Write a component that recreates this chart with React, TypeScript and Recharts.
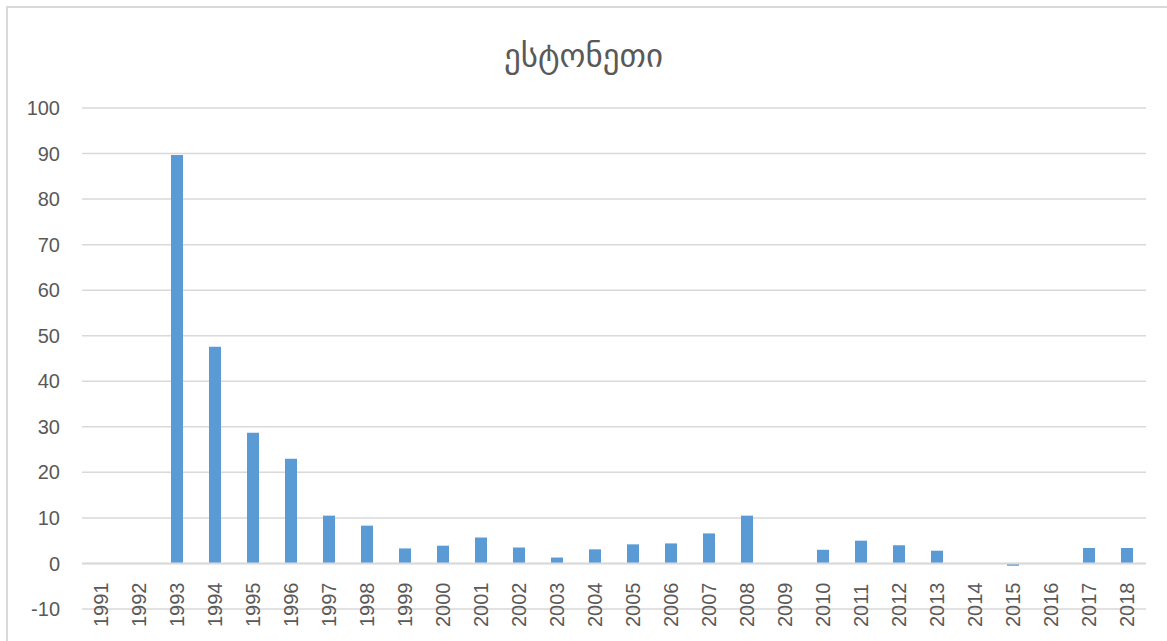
import React from "react";
import { BarChart, Bar, XAxis, YAxis, CartesianGrid, ReferenceLine } from "recharts";

const years = [
  "1991", "1992", "1993", "1994", "1995", "1996", "1997", "1998", "1999", "2000",
  "2001", "2002", "2003", "2004", "2005", "2006", "2007", "2008", "2009", "2010",
  "2011", "2012", "2013", "2014", "2015", "2016", "2017", "2018",
];
const values: (number | null)[] = [
  null, null, 89.7, 47.6, 28.7, 23.0, 10.5, 8.3, 3.3, 3.9,
  5.7, 3.5, 1.3, 3.1, 4.2, 4.4, 6.6, 10.5, 0, 3.0,
  5.0, 4.0, 2.8, 0, -0.5, 0, 3.4, 3.4,
];
const yTicks = [-10, 0, 10, 20, 30, 40, 50, 60, 70, 80, 90, 100];
const title = "ესტონეთი";

const data = years.map((y, i) => ({ year: y, v: values[i] }));

const FONT = "'Liberation Sans', Arial, sans-serif";
const TEXT = "#595959";
const GRID = "#d9d9d9";

const XTick = (props: any) => {
  const { x, y, payload } = props;
  const ax = x + 7;
  const ay = y + 18;
  return (
    <text
      x={ax}
      y={ay}
      transform={`rotate(-90, ${ax}, ${ay})`}
      textAnchor="start"
      fill={TEXT}
      fontSize={20}
      fontFamily={FONT}
    >
      {payload.value}
    </text>
  );
};

export default function App() {
  return (
    <div style={{ position: "absolute", left: 0, top: 0, width: 1167, height: 641, background: "#fff", overflow: "hidden" }}>
      <div
        style={{
          position: "absolute",
          left: 6,
          top: 6,
          width: 1200,
          height: 700,
          borderLeft: `2px solid ${GRID}`,
          borderTop: `2px solid ${GRID}`,
          boxSizing: "border-box",
        }}
      />
      <div
        style={{
          position: "absolute",
          left: 0,
          top: 36,
          width: 1167,
          textAlign: "center",
          fontFamily: "'DejaVu Sans', sans-serif",
          fontSize: 33,
          color: TEXT,
          lineHeight: "40px",
        }}
      >
        {title}
      </div>
      <div style={{ position: "absolute", left: 0, top: 0 }}>
        <BarChart width={1167} height={641} data={data} margin={{ top: 108, right: 21, bottom: 0, left: 0 }}>
          <CartesianGrid vertical={false} stroke={GRID} strokeWidth={1.5} />
          <YAxis
            width={82}
            domain={[-10, 100]}
            ticks={yTicks}
            interval={0}
            axisLine={false}
            tickLine={false}
            tickSize={0}
            tickMargin={22}
            tick={{ fill: TEXT, fontSize: 20, fontFamily: FONT }}
          />
          <XAxis
            dataKey="year"
            height={32}
            interval={0}
            axisLine={false}
            tickLine={false}
            tickSize={0}
            tickMargin={0}
            tick={<XTick />}
          />
          <ReferenceLine y={0} stroke={GRID} strokeWidth={2} />
          <Bar dataKey="v" fill="#5B9BD5" barSize={12} isAnimationActive={false} />
        </BarChart>
      </div>
    </div>
  );
}
